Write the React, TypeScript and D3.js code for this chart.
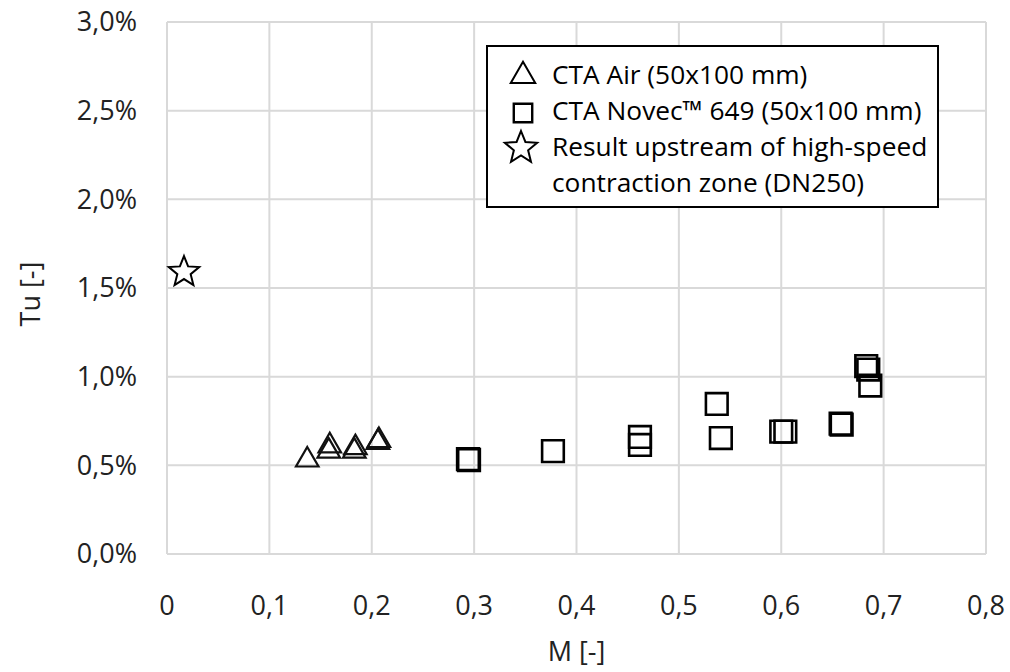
import React from "react";
import * as d3 from "d3";

// CTA Air (50x100 mm)
const airM = [0.137, 0.159, 0.158, 0.184, 0.183, 0.207, 0.206];
const airTu = [0.53, 0.61, 0.58, 0.6, 0.58, 0.64, 0.63];

// CTA Novec 649 (50x100 mm)
const novecM = [0.294, 0.295, 0.377, 0.462, 0.462, 0.537, 0.541, 0.6, 0.604, 0.658, 0.659, 0.683, 0.685, 0.687];
const novecTu = [0.535, 0.53, 0.58, 0.66, 0.615, 0.846, 0.654, 0.69, 0.69, 0.735, 0.73, 1.06, 1.04, 0.95];

// upstream of high-speed contraction zone (DN250)
const starM = [0.0166];
const starTu = [1.59];

const xTicks = [0, 0.1, 0.2, 0.3, 0.4, 0.5, 0.6, 0.7, 0.8];
const yTicks = [0, 0.5, 1.0, 1.5, 2.0, 2.5, 3.0];

const legendLabels = [
  ["CTA Air (50x100 mm)"],
  ["CTA Novec™ 649 (50x100 mm)"],
  ["Result upstream of high-speed", "contraction zone (DN250)"],
];

const W = 1010;
const H = 672;
const margin = { top: 22, right: 24, bottom: 118, left: 167 };
const FONT = "'Open Sans', sans-serif";
const FS = 27;
const LFS = 26.3;

const trianglePath = d3.symbol().type(d3.symbolTriangle).size(220)();
const squarePath = d3.symbol().type(d3.symbolSquare).size(470)();

function starPath(ro: number, ri: number) {
  const pts: string[] = [];
  for (let i = 0; i < 10; i++) {
    const r = i % 2 === 0 ? ro : ri;
    const a = -Math.PI / 2 + (i * Math.PI) / 5;
    pts.push(`${(r * Math.cos(a)).toFixed(2)},${(r * Math.sin(a)).toFixed(2)}`);
  }
  return "M" + pts.join("L") + "Z";
}
const star = starPath(16, 7);

const fmtComma = (v: number, d: number) => d3.format(`.${d}f`)(v).replace(".", ",");

export default function App() {
  const x = d3.scaleLinear().domain([0, 0.8]).range([margin.left, W - margin.right]);
  const y = d3.scaleLinear().domain([0, 3]).range([H - margin.bottom, margin.top]);

  const lx = 487;
  const ly = 46;

  return (
    <svg width={W} height={H} style={{ display: "block", position: "absolute", left: 0, top: 0 }} fontFamily={FONT}>
      <rect width={W} height={H} fill="#fff" />
      {/* grid */}
      {yTicks.map((t) => (
        <line key={"gy" + t} x1={x(0)} x2={x(0.8)} y1={y(t)} y2={y(t)} stroke="#d9d9d9" strokeWidth={2} />
      ))}
      {xTicks.map((t) => (
        <line key={"gx" + t} x1={x(t)} x2={x(t)} y1={y(0)} y2={y(3)} stroke="#d9d9d9" strokeWidth={2} />
      ))}
      {/* y tick labels */}
      {yTicks.map((t) => (
        <text key={"ty" + t} x={137} y={y(t)} dy="0.35em" textAnchor="end" fontSize={FS} fill="#222">
          {fmtComma(t, 1) + "%"}
        </text>
      ))}
      {xTicks.map((t) => (
        <text key={"tx" + t} x={x(t)} y={606} dy="0.35em" textAnchor="middle" fontSize={FS} fill="#222">
          {t === 0 ? "0" : fmtComma(t, 1)}
        </text>
      ))}
      {/* axis titles */}
      <text x={(x(0) + x(0.8)) / 2} y={652} dy="0.35em" textAnchor="middle" fontSize={FS} fill="#222">
        M [-]
      </text>
      <text transform={`translate(31,${(y(0) + y(3)) / 2 + 6}) rotate(-90)`} dy="0.35em" textAnchor="middle" fontSize={FS} fill="#222">
        Tu [-]
      </text>
      {/* markers */}
      {starM.map((m, i) => (
        <path key={"s" + i} d={star} transform={`translate(${x(m)},${y(starTu[i])})`} fill="#fff" stroke="#000" strokeWidth={2} />
      ))}
      {airM.map((m, i) => (
        <path key={"a" + i} d={trianglePath} transform={`translate(${x(m)},${y(airTu[i])})`} fill="none" stroke="#111" strokeWidth={2.2} />
      ))}
      {novecM.map((m, i) => (
        <path key={"n" + i} d={squarePath} transform={`translate(${x(m)},${y(novecTu[i])})`} fill="none" stroke="#000" strokeWidth={2.6} />
      ))}
      {/* legend */}
      <rect x={lx} y={ly} width={451} height={161} fill="#fff" stroke="#000" strokeWidth={2} />
      <path d={d3.symbol().type(d3.symbolTriangle).size(260)()} transform={`translate(523,${ly + 30})`} fill="none" stroke="#000" strokeWidth={2} />
      <path d={d3.symbol().type(d3.symbolSquare).size(340)()} transform={`translate(523,${ly + 67})`} fill="none" stroke="#000" strokeWidth={2.4} />
      <path d={starPath(17, 7.5)} transform={`translate(521,${ly + 102})`} fill="none" stroke="#000" strokeWidth={2} />
      {legendLabels.map((lines, i) =>
        lines.map((s, j) => (
          <text key={"l" + i + j} x={552} y={ly + 29 + i * 36 + j * 36} dy="0.35em" fontSize={LFS} fill="#000">
            {s}
          </text>
        ))
      )}
    </svg>
  );
}
